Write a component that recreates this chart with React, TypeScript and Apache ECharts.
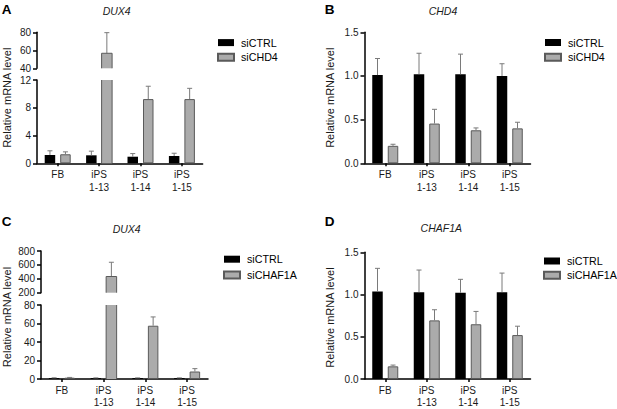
import React, { useEffect, useRef } from 'react';
import * as echarts from 'echarts';

// ---------- data ----------
const categories = ['FB', 'iPS\n1-13', 'iPS\n1-14', 'iPS\n1-15'];

// Panel A: DUX4 after siCHD4
const aCtrl = [1.2, 1.15, 0.95, 1.05];
const aCtrlTop = [1.8, 1.75, 1.4, 1.45];
const aKd = [1.3, 56.7, 9.25, 9.25];
const aKdTop = [1.65, 79.6, 11.1, 10.8];

// Panel B: CHD4 after siCHD4
const bCtrl = [1.01, 1.02, 1.02, 1.0];
const bCtrlTop = [1.2, 1.26, 1.25, 1.14];
const bKd = [0.2, 0.455, 0.378, 0.4];
const bKdTop = [0.218, 0.618, 0.405, 0.47];

// Panel C: DUX4 after siCHAF1A
const cCtrl = [1.0, 1.0, 1.0, 1.0];
const cCtrlTop = [1.3, 1.2, 1.2, 1.2];
const cKd = [1.4, 433, 57.6, 8.1];
const cKdTop = [1.7, 638, 67.1, 11.2];

// Panel D: CHAF1A after siCHAF1A
const dCtrl = [1.036, 1.028, 1.02, 1.028];
const dCtrlTop = [1.31, 1.29, 1.18, 1.254];
const dKd = [0.15, 0.694, 0.648, 0.52];
const dKdTop = [0.165, 0.82, 0.8, 0.625];

const aTicksUpper = [40, 80, 20];
const aTicksLower = [0, 12, 4];
const cTicksUpper = [200, 800, 200];
const cTicksLower = [0, 80, 20];
const relTicks = [0, 1.5, 0.5];

// ---------- style ----------
const FONT = '"Liberation Sans", Arial, Helvetica, sans-serif';
const TXT = '#1a1a1a';
const BAR_W = 10.5;
const BAR_GAP = 5;
const AXIS_W = 1.5;
const GREY = '#ababab';
const GREY_EDGE = '#5a5a5a';

type Seg = { top: number; height: number; ticks: number[]; bottom: boolean; fixed?: boolean };
type Panel = {
  left: number; width: number; segs: Seg[];
  ctrl: number[]; ctrlTop: number[]; kd: number[]; kdTop: number[]; kdName: string;
};

// kind 0: error bar (value -> upper); kind 1: outline of a broken bar (sides, top if drawTop)
const renderMarks = (params: any, api: any) => {
  const cat = api.value(0);
  const grp = api.value(1);
  const lo = api.value(2);
  const hi = api.value(3);
  const kind = api.value(4);
  const drawTop = api.value(5);
  const p0 = api.coord([cat, lo]);
  const p1 = api.coord([cat, hi]);
  const cx = p0[0] + (grp === 0 ? -1 : 1) * (BAR_W + BAR_GAP) / 2;
  if (kind === 0) {
    const st = { stroke: '#7a7a7a', lineWidth: 1 };
    return {
      type: 'group',
      children: [
        { type: 'line', shape: { x1: cx, y1: p0[1], x2: cx, y2: p1[1] }, style: st },
        { type: 'line', shape: { x1: cx - 2.5, y1: p1[1], x2: cx + 2.5, y2: p1[1] }, style: st },
      ],
    };
  }
  const st = { stroke: GREY_EDGE, lineWidth: 1 };
  const xl = cx - BAR_W / 2;
  const xr = cx + BAR_W / 2;
  const children: any[] = [
    { type: 'line', shape: { x1: xl, y1: p0[1], x2: xl, y2: p1[1] }, style: st },
    { type: 'line', shape: { x1: xr, y1: p0[1], x2: xr, y2: p1[1] }, style: st },
  ];
  if (drawTop) children.push({ type: 'line', shape: { x1: xl, y1: p1[1], x2: xr, y2: p1[1] }, style: st });
  return { type: 'group', children };
};

function buildOption() {
  const panels: Panel[] = [
    {
      left: 37, width: 165.6,
      segs: [
        { top: 32.3, height: 36, ticks: aTicksUpper, bottom: false },
        { top: 80, height: 83.3, ticks: aTicksLower, bottom: true },
      ],
      ctrl: aCtrl, ctrlTop: aCtrlTop, kd: aKd, kdTop: aKdTop, kdName: 'siCHD4',
    },
    {
      left: 364.5, width: 166,
      segs: [{ top: 32.3, height: 131, ticks: relTicks, bottom: true, fixed: true }],
      ctrl: bCtrl, ctrlTop: bCtrlTop, kd: bKd, kdTop: bKdTop, kdName: 'siCHD4',
    },
    {
      left: 41, width: 167,
      segs: [
        { top: 251, height: 41.7, ticks: cTicksUpper, bottom: false },
        { top: 305, height: 77.7, ticks: cTicksLower, bottom: true },
      ],
      ctrl: cCtrl, ctrlTop: cCtrlTop, kd: cKd, kdTop: cKdTop, kdName: 'siCHAF1A',
    },
    {
      left: 364.5, width: 166,
      segs: [{ top: 252.3, height: 130.4, ticks: relTicks, bottom: true, fixed: true }],
      ctrl: dCtrl, ctrlTop: dCtrlTop, kd: dKd, kdTop: dKdTop, kdName: 'siCHAF1A',
    },
  ];

  const grid: any[] = [];
  const xAxis: any[] = [];
  const yAxis: any[] = [];
  const series: any[] = [];

  panels.forEach((p) => {
    p.segs.forEach((s) => {
      const gi = grid.length;
      const [mn, mx, iv] = s.ticks;
      grid.push({ left: p.left, top: s.top, width: p.width, height: s.height });
      xAxis.push({
        type: 'category', gridIndex: gi, data: categories,
        axisLine: { show: s.bottom, lineStyle: { color: '#000', width: AXIS_W } },
        axisTick: { show: s.bottom, alignWithLabel: true, length: 3, lineStyle: { color: '#000', width: AXIS_W } },
        axisLabel: {
          show: s.bottom, interval: 0, fontSize: 10, lineHeight: 12.5, margin: 5,
          color: TXT, fontFamily: FONT,
        },
        splitLine: { show: false },
      });
      yAxis.push({
        type: 'value', gridIndex: gi, min: mn, max: mx, interval: iv,
        splitLine: { show: false },
        axisLine: { show: true, lineStyle: { color: '#000', width: AXIS_W } },
        axisTick: { show: true, length: 4, lineStyle: { color: '#000', width: AXIS_W } },
        axisLabel: {
          fontSize: 10, margin: 6, color: TXT, fontFamily: FONT,
          showMinLabel: true, showMaxLabel: true,
          formatter: s.fixed ? (v: number) => v.toFixed(1) : (v: number) => String(v),
        },
      });
      const broken = (v: number) => v > mx || (mn > 0 && v > mn);
      const item = (v: number) => {
        if (!(mn === 0 || v > mn)) return '-';
        return broken(v) ? { value: v, itemStyle: { borderWidth: 0 } } : v;
      };
      series.push({
        type: 'bar', name: 'siCTRL', xAxisIndex: gi, yAxisIndex: gi,
        data: p.ctrl.map(item), barWidth: BAR_W, barGap: (BAR_GAP / BAR_W) * 100 + '%',
        itemStyle: { color: '#000000' }, silent: true,
      });
      series.push({
        type: 'bar', name: p.kdName, xAxisIndex: gi, yAxisIndex: gi,
        data: p.kd.map(item), barWidth: BAR_W, barGap: (BAR_GAP / BAR_W) * 100 + '%',
        itemStyle: { color: GREY, borderColor: GREY_EDGE, borderWidth: 1 }, silent: true,
      });
      const marks: number[][] = [];
      p.ctrl.forEach((v, i) => { if (v >= mn && v <= mx) marks.push([i, 0, v, p.ctrlTop[i], 0, 0]); });
      p.kd.forEach((v, i) => {
        if (v >= mn && v <= mx) marks.push([i, 1, v, p.kdTop[i], 0, 0]);
        if (broken(v)) marks.push([i, 1, mn, Math.min(v, mx), 1, v <= mx ? 1 : 0]);
      });
      series.push({
        type: 'custom', xAxisIndex: gi, yAxisIndex: gi, data: marks,
        encode: { x: 0, y: 2 }, renderItem: renderMarks, silent: true, z: 3,
      });
    });
  });

  const legendBase = {
    orient: 'vertical', itemWidth: 16, itemHeight: 7, icon: 'rect', selectedMode: false,
    padding: 0,
    textStyle: { fontSize: 10.7, lineHeight: 12, fontFamily: FONT, color: '#000', padding: [0, 0, 0, 2] },
  };
  const legend = [
    { ...legendBase, data: ['siCTRL', 'siCHD4'], left: 217, top: 36.6, itemGap: 2.6 },
    { ...legendBase, data: ['siCTRL', 'siCHD4'], left: 544, top: 36.5, itemGap: 2.7 },
    { ...legendBase, data: ['siCTRL', 'siCHAF1A'], left: 223, top: 253.2, itemGap: 3.8 },
    { ...legendBase, data: ['siCTRL', 'siCHAF1A'], left: 543, top: 255, itemGap: 2.2 },
  ];

  const txt = (x: number, y: number, text: string, extra: any = {}, rot = 0) => ({
    type: 'text', x, y, rotation: rot, silent: true,
    style: {
      text, fontFamily: FONT, fontSize: 11, fill: TXT, align: 'center', verticalAlign: 'middle',
      ...extra,
    },
  });
  const italic = { fontStyle: 'italic', fontSize: 10.5 };
  const bold = { fontWeight: 'bold', fontSize: 13.5, fill: '#000' };
  const yName = 'Relative mRNA level';
  const graphic = [
    txt(6.7, 9.8, 'A', bold),
    txt(329.7, 9.8, 'B', bold),
    txt(6.5, 221, 'C', bold),
    txt(329.7, 221.2, 'D', bold),
    txt(116.7, 10.5, 'DUX4', italic),
    txt(443, 10.7, 'CHD4', italic),
    txt(126.7, 229, 'DUX4', italic),
    txt(441.3, 228.3, 'CHAF1A', italic),
    txt(7, 97.7, yName, {}, Math.PI / 2),
    txt(329.7, 97.7, yName, {}, Math.PI / 2),
    txt(7, 317, yName, {}, Math.PI / 2),
    txt(329.7, 317.5, yName, {}, Math.PI / 2),
  ];

  return {
    animation: false,
    backgroundColor: '#ffffff',
    grid, xAxis, yAxis, series, legend, graphic,
  };
}

export default function App() {
  const ref = useRef<HTMLDivElement>(null);
  useEffect(() => {
    if (!ref.current) return;
    const chart = echarts.init(ref.current, undefined, { renderer: 'svg' });
    chart.setOption(buildOption() as any);
    return () => chart.dispose();
  }, []);
  return (
    <div
      ref={ref}
      style={{ position: 'absolute', left: 0, top: 0, width: 617, height: 409, background: '#fff' }}
    />
  );
}
